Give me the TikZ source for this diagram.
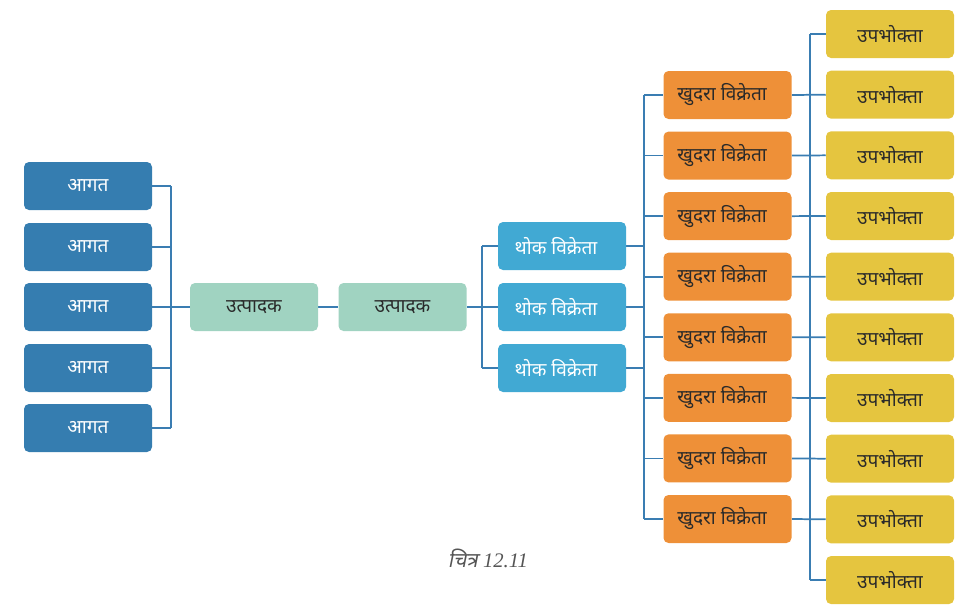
\documentclass[tikz,border=0pt]{standalone}
\usepackage{fontspec}
\setmainfont{Liberation Serif}
\newfontfamily\deva[Script=Devanagari]{Noto Sans}
\newfontfamily\devaslant[Script=Devanagari,FakeSlant=0.2]{Noto Sans}
\usetikzlibrary{backgrounds}
\definecolor{cAagat}{HTML}{357DB0}
\definecolor{cUtpadak}{HTML}{A0D3C1}
\definecolor{cThok}{HTML}{41A9D3}
\definecolor{cKhudra}{HTML}{EE9038}
\definecolor{cUpbhokta}{HTML}{E5C53F}
\definecolor{cLine}{HTML}{3A7DB2}
\definecolor{cDark}{HTML}{2A2A2A}
\definecolor{cCap}{HTML}{555555}
\begin{document}
\begin{tikzpicture}[x=0.75pt,y=-0.75pt,
  box/.style={rectangle,rounded corners=3.75pt,minimum width=96pt,minimum height=36pt,
    inner sep=0pt,font=\deva\fontsize{14.3}{16}\selectfont},
  aagat/.style={box,fill=cAagat,text=white},
  utpadak/.style={box,fill=cUtpadak,text=cDark},
  thok/.style={box,fill=cThok,text=white},
  khudra/.style={box,fill=cKhudra,text=cDark},
  upbhokta/.style={box,fill=cUpbhokta,text=cDark},
  conn/.style={draw=cLine,line width=1.3pt}]
\useasboundingbox (0,0) rectangle (973,607);

% nodes
\foreach \y [count=\i] in {186,247,307,368,428}
  \node[aagat] (a\i) at (88,\y) {आगत};
\node[utpadak] (u1) at (254,307) {उत्पादक};
\node[utpadak] (u2) at (402.5,307) {उत्पादक};
\foreach \y [count=\i] in {246,307,368}
  \node[thok] (t\i) at (562,\y) {थोक विक्रेता\kern 9pt};
\foreach \i in {1,...,8}
  \node[khudra] (k\i) at (727.5,{95+60.57*(\i-1)}) {खुदरा विक्रेता\kern 8pt};
\foreach \i in {1,...,10}
  \node[upbhokta] (c\i) at (890,{34+60.67*(\i-1)}) {उपभोक्ता};

\node[text=cCap,font=\fontsize{15.5}{18}\selectfont] (cap) at (488,558)
  {{\devaslant चित्र} \itshape 12.11};

% bus coordinates
\coordinate (ab) at (171,0);
\coordinate (tb) at (482,0);
\coordinate (kb) at (644,0);
\coordinate (cb) at (810,0);

\begin{scope}[on background layer]
  \foreach \i in {1,...,5}
    \draw[conn] (a\i.east) -- (a\i.east -| ab);
  \draw[conn] (a1.east -| ab) -- (a5.east -| ab);
  \draw[conn] (a3.east -| ab) -- (u1.west);
  \draw[conn] (u1.east) -- (u2.west);
  \draw[conn] (u2.east) -- (t2.west);
  \draw[conn] (t1.west -| tb) -- (t3.west -| tb);
  \draw[conn] (t1.west -| tb) -- (t1.west);
  \draw[conn] (t3.west -| tb) -- (t3.west);
  \foreach \i in {1,2,3}
    \draw[conn] (t\i.east) -- (t\i.east -| kb);
  \draw[conn] (k1.west -| kb) -- (k8.west -| kb);
  \foreach \i [evaluate=\i as \j using int(\i+1)] in {1,...,8} {
    \draw[conn] (k\i.west -| kb) -- (k\i.west);
    \draw[conn] (k\i.east) -- (c\j.west);
  }
  \draw[conn] (c1.west -| cb) -- (c10.west -| cb);
  \draw[conn] (c1.west -| cb) -- (c1.west);
  \draw[conn] (c10.west -| cb) -- (c10.west);
\end{scope}
\end{tikzpicture}
\end{document}
